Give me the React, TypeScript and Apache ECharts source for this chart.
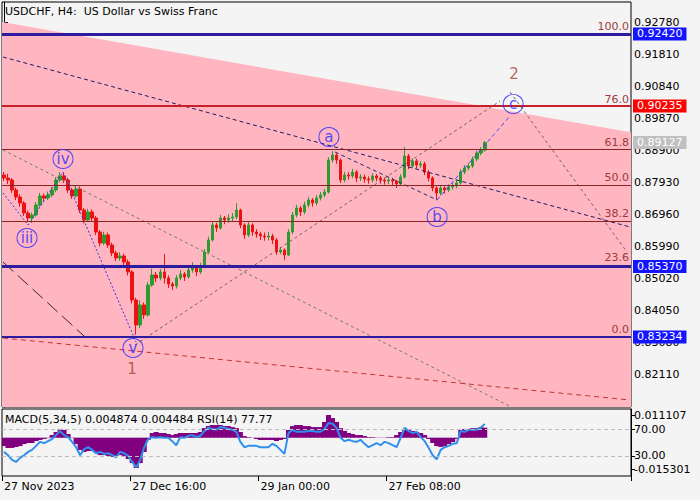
import React, { useEffect, useRef } from 'react';
import * as echarts from 'echarts';

const FONT = 'DejaVu Sans';

const titleText = 'USDCHF, H4:  US Dollar vs Swiss Franc';
const indicatorText = 'MACD(5,34,5) 0.004874 0.004484 RSI(14) 77.77';

const TOTAL_BARS = 157;
const timeLabels = ['27 Nov 2023', '27 Dec 16:00', '29 Jan 00:00', '27 Feb 08:00'];
const timeLabelBars = [0, 32, 64, 96];

const priceTicks = [0.9278, 0.9181, 0.9084, 0.8987, 0.889, 0.8793, 0.8696, 0.8599, 0.8502, 0.8405, 0.8308, 0.8211];
const priceMin = 0.811097;
const priceMax = 0.933863;
const macdTicks = [-0.015301, 0.011107];
const rsiTicks = [30, 70];

// [open, close, low, high]
const candles: number[][] = [
  [0.88142, 0.88051, 0.8796, 0.88233], [0.88051, 0.87991, 0.8787, 0.8818], [0.87991, 0.87688, 0.876, 0.8805],
  [0.87688, 0.87475, 0.8738, 0.8776], [0.87475, 0.87294, 0.8718, 0.8756], [0.87294, 0.8699, 0.869, 0.8735],
  [0.8699, 0.86839, 0.8671, 0.8706], [0.86839, 0.8693, 0.8669, 0.87], [0.8693, 0.87233, 0.8688, 0.8732],
  [0.87233, 0.87506, 0.8718, 0.876], [0.87506, 0.87445, 0.8732, 0.8758], [0.87445, 0.87536, 0.8738, 0.8764],
  [0.87536, 0.87688, 0.8747, 0.8778], [0.87688, 0.87991, 0.8762, 0.8808], [0.87991, 0.88112, 0.8793, 0.8823],
  [0.88112, 0.87991, 0.879, 0.882], [0.87991, 0.87688, 0.876, 0.8806], [0.87688, 0.87506, 0.8742, 0.8775],
  [0.87506, 0.87718, 0.8745, 0.8784], [0.87718, 0.87081, 0.8699, 0.8779], [0.87081, 0.86778, 0.8668, 0.8714],
  [0.86778, 0.87021, 0.8672, 0.8712], [0.87021, 0.86839, 0.8675, 0.871], [0.86839, 0.86414, 0.8632, 0.869],
  [0.86414, 0.86081, 0.8598, 0.8647], [0.86081, 0.86324, 0.8602, 0.8642], [0.86324, 0.86021, 0.8593, 0.864],
  [0.86021, 0.85778, 0.8568, 0.8609], [0.85778, 0.85627, 0.8553, 0.8585], [0.85627, 0.85687, 0.8554, 0.858],
  [0.85687, 0.85505, 0.8542, 0.8576], [0.85505, 0.85202, 0.851, 0.8558], [0.85202, 0.84353, 0.8425, 0.8526],
  [0.84353, 0.83596, 0.833, 0.8442], [0.83596, 0.84202, 0.835, 0.8435], [0.84202, 0.83899, 0.8378, 0.8428],
  [0.83899, 0.84808, 0.8385, 0.849], [0.84808, 0.85111, 0.8475, 0.853], [0.85111, 0.8502, 0.849, 0.852],
  [0.8502, 0.85202, 0.8495, 0.8529], [0.85202, 0.8502, 0.8485, 0.8575], [0.8502, 0.84838, 0.8472, 0.851],
  [0.84838, 0.84777, 0.8466, 0.849], [0.84777, 0.8502, 0.847, 0.8511], [0.8502, 0.85141, 0.8495, 0.8526],
  [0.85141, 0.8505, 0.8493, 0.852], [0.8505, 0.85263, 0.85, 0.8536], [0.85263, 0.85324, 0.8518, 0.855],
  [0.85324, 0.85202, 0.8508, 0.854], [0.85202, 0.85384, 0.8514, 0.8548], [0.85384, 0.85808, 0.8533, 0.859],
  [0.85808, 0.86172, 0.8575, 0.8627], [0.86172, 0.86627, 0.8612, 0.8672], [0.86627, 0.86536, 0.8642, 0.867],
  [0.86536, 0.86839, 0.8648, 0.8693], [0.86839, 0.86778, 0.8665, 0.869], [0.86778, 0.86839, 0.867, 0.8695],
  [0.86839, 0.86869, 0.8674, 0.8699], [0.86869, 0.87081, 0.868, 0.8729], [0.87081, 0.86627, 0.8653, 0.8712],
  [0.86627, 0.86324, 0.8621, 0.8668], [0.86324, 0.86627, 0.8626, 0.8672], [0.86627, 0.86414, 0.863, 0.8668],
  [0.86414, 0.86354, 0.8624, 0.865], [0.86354, 0.86293, 0.8617, 0.8642], [0.86293, 0.86263, 0.8615, 0.864],
  [0.86263, 0.86293, 0.8616, 0.8642], [0.86293, 0.86172, 0.8605, 0.8636], [0.86172, 0.85808, 0.8572, 0.8623],
  [0.85808, 0.85869, 0.8574, 0.8596], [0.85869, 0.85718, 0.8556, 0.8592], [0.85718, 0.86414, 0.8568, 0.865],
  [0.86414, 0.8693, 0.8635, 0.8702], [0.8693, 0.87142, 0.8686, 0.8724], [0.87142, 0.87021, 0.869, 0.872],
  [0.87021, 0.87233, 0.8695, 0.8733], [0.87233, 0.87385, 0.8716, 0.8748], [0.87385, 0.87294, 0.8718, 0.8744],
  [0.87294, 0.87445, 0.8722, 0.8754], [0.87445, 0.87536, 0.8737, 0.8763], [0.87536, 0.87627, 0.8747, 0.8772],
  [0.87627, 0.88597, 0.8758, 0.8868], [0.88597, 0.88749, 0.8852, 0.8887], [0.88749, 0.88597, 0.8848, 0.888],
  [0.88597, 0.87991, 0.879, 0.8864], [0.87991, 0.88142, 0.8792, 0.8824], [0.88142, 0.88112, 0.88, 0.8823],
  [0.88112, 0.88233, 0.8805, 0.8833], [0.88233, 0.88051, 0.8793, 0.8829], [0.88051, 0.88082, 0.8796, 0.8817],
  [0.88082, 0.88021, 0.8791, 0.8815], [0.88021, 0.87991, 0.8788, 0.881], [0.87991, 0.88112, 0.8792, 0.882],
  [0.88112, 0.88051, 0.8795, 0.8817], [0.88051, 0.87991, 0.8788, 0.8811], [0.87991, 0.8796, 0.8785, 0.8806],
  [0.8796, 0.87991, 0.8787, 0.8808], [0.87991, 0.8796, 0.8784, 0.8806], [0.8796, 0.87869, 0.8775, 0.8799],
  [0.87869, 0.88082, 0.8782, 0.8817], [0.88082, 0.88718, 0.8803, 0.8899], [0.88718, 0.88415, 0.8832, 0.8878],
  [0.88415, 0.88567, 0.8836, 0.8865], [0.88567, 0.88445, 0.8834, 0.8863], [0.88445, 0.88476, 0.8836, 0.8856],
  [0.88476, 0.88233, 0.8814, 0.8854], [0.88233, 0.88051, 0.8795, 0.8829], [0.88051, 0.87748, 0.8765, 0.881],
  [0.87748, 0.87597, 0.8739, 0.878], [0.87597, 0.87748, 0.8752, 0.8783], [0.87748, 0.87688, 0.8758, 0.878],
  [0.87688, 0.87778, 0.8762, 0.8786], [0.87778, 0.87809, 0.877, 0.879], [0.87809, 0.879, 0.8774, 0.8799],
  [0.879, 0.88233, 0.8785, 0.8832], [0.88233, 0.88355, 0.8817, 0.8844], [0.88355, 0.88415, 0.8828, 0.885],
  [0.88415, 0.88627, 0.8836, 0.887], [0.88627, 0.88809, 0.8856, 0.8888], [0.88809, 0.889, 0.8874, 0.8899],
  [0.889, 0.89127, 0.8885, 0.8917],
];

const macd = [
  -0.0041, -0.005, -0.005, -0.0045, -0.0041, -0.0031, -0.0026, -0.0026, -0.0016, -0.0011,
  -0.0006, -0.0002, 0.0013, 0.0028, 0.0043, 0.0038, 0.0018, -0.0002, -0.0031, -0.006,
  -0.007, -0.0065, -0.0065, -0.0075, -0.0085, -0.0085, -0.0089, -0.0094, -0.0089, -0.0085,
  -0.0089, -0.0104, -0.0124, -0.0148, -0.0124, -0.007, -0.0011, 0.0023, 0.0028, 0.0023,
  0.0023, 0.0018, 0.0013, 0.0018, 0.0023, 0.0023, 0.0023, 0.0023, 0.0023, 0.0028,
  0.0047, 0.0057, 0.0062, 0.0062, 0.0062, 0.0057, 0.0057, 0.0052, 0.0047, 0.0028,
  0.0008, 0.0003, -0.0001, -0.0006, -0.0011, -0.0011, -0.0011, -0.0011, -0.0016, -0.0011,
  -0.0006, 0.0038, 0.0057, 0.0062, 0.0062, 0.0057, 0.0057, 0.0052, 0.0052, 0.0052,
  0.0077, 0.0111, 0.0096, 0.0077, 0.0047, 0.0033, 0.0023, 0.0018, 0.0013, 0.0013,
  0.0008, 0.0003, 0.0003, -0.0001, -0.0001, -0.0001, 0.0003, 0.0003, 0.0013, 0.0028,
  0.0038, 0.0038, 0.0033, 0.0028, 0.0023, 0.0013, -0.0006, -0.0026, -0.0041, -0.0045,
  -0.0041, -0.0031, -0.0021, -0.0006, 0.0038, 0.0043, 0.0043, 0.0047, 0.0047, 0.0052,
  0.0049,
];

const rsi = [
  36, 31, 24, 21, 27, 31, 36, 39, 45, 51,
  49, 52, 55, 61, 67, 61, 58, 51, 43, 31,
  40, 43, 39, 34, 36, 33, 34, 31, 28, 36,
  34, 30, 21, 13, 24, 43, 55, 58, 57, 58,
  57, 57, 52, 46, 58, 57, 60, 61, 58, 60,
  67, 72, 70, 69, 73, 72, 70, 69, 66, 51,
  43, 45, 45, 45, 43, 43, 43, 48, 45, 39,
  33, 64, 69, 66, 66, 66, 67, 67, 66, 66,
  70, 79, 78, 72, 57, 52, 54, 52, 51, 54,
  48, 43, 46, 49, 46, 51, 49, 46, 43, 57,
  72, 67, 64, 66, 58, 52, 42, 31, 25, 39,
  43, 45, 48, 49, 67, 66, 69, 69, 69, 72,
  77.77,
];

const fibLow = 0.83234;
const fibHigh = 0.9242;
const fibLevels = [0, 23.6, 38.2, 50, 61.8, 76, 100];

const blueLevels = [0.9242, 0.8537, 0.83234];
const redLevels = [0.90235];
const lastPrice = 0.89127;

// zone boundary: [bar, price]
const zoneEdge = [[-0.5, 0.9278], [156.5, 0.8944]];

// trend lines in [bar, price]
const navyLine = [[-0.25, 0.91719], [156.26, 0.86566]];
const waveOneToTwo = [[32.7, 0.82989], [123.8, 0.90385]];
const twoDown = [[126.3, 0.90658], [155.5, 0.85808]];
const greenLine = [[-0.25, 0.889], [126.6, 0.8111]];
const redLine = [[-0.25, 0.83201], [156.26, 0.81322]];
const darkLine = [[-0.25, 0.85505], [19.97, 0.83262]];
const subWave = [[-0.25, 0.87597], [6.0, 0.86627], [14.73, 0.88233], [32.95, 0.8308]];
const bToC = [[108.1, 0.87385], [126.3, 0.89931]];
const aToB = [[82.6, 0.8884], [108.1, 0.87385]];

const waveLabels: [number, number, string][] = [
  [5.74, 0.86233, 'iii'],
  [14.73, 0.88627, 'iv'],
  [32.2, 0.82898, 'v'],
  [81.1, 0.89294, 'a'],
  [108.1, 0.86869, 'b'],
  [127.1, 0.90295, 'c'],
];
const degreeLabels: [number, number, string][] = [
  [31.95, 0.82262, '1'],
  [127.3, 0.91204, '2'],
];

const barSlots = Array.from({ length: TOTAL_BARS }, (_, i) => String(i));

function trend(data: number[][], color: string, dash: number[], width = 1, z = 4) {
  return {
    type: 'line',
    xAxisIndex: 1,
    yAxisIndex: 0,
    data,
    symbol: 'none',
    silent: true,
    z,
    lineStyle: { color, width, type: dash },
  };
}

export default function App() {
  const ref = useRef<HTMLDivElement>(null);

  useEffect(() => {
    document.body.style.margin = '0';
    if (!ref.current) return;
    const chart = echarts.init(ref.current, undefined, { renderer: 'svg' });

    const fibPrices = fibLevels.map((l) => fibLow + (l / 100) * (fibHigh - fibLow));

    const option: any = {
      animation: false,
      backgroundColor: '#f4f4f4',
      textStyle: { fontFamily: FONT },
      title: [
        {
          text: titleText,
          left: 5,
          top: 6,
          padding: 0,
          textStyle: { fontSize: 11, fontWeight: 'normal', color: '#000', fontFamily: FONT },
        },
        {
          text: indicatorText,
          left: 5,
          top: 414,
          padding: 0,
          textStyle: { fontSize: 11, fontWeight: 'normal', color: '#000', fontFamily: FONT },
        },
      ],
      grid: [
        { left: 2, width: 629, top: 2, height: 405, show: true, borderColor: '#000', borderWidth: 1, backgroundColor: '#f4f4f4' },
        { left: 2, width: 629, top: 415, height: 54, show: false },
        { left: 2, width: 629, top: 409, height: 67, show: true, borderColor: '#000', borderWidth: 1, backgroundColor: '#f4f4f4' },
      ],
      xAxis: [
        { type: 'category', gridIndex: 0, data: barSlots, show: false },
        { type: 'value', gridIndex: 0, min: -0.5, max: TOTAL_BARS - 0.5, show: false },
        { type: 'category', gridIndex: 1, data: barSlots, show: false },
        {
          type: 'category',
          gridIndex: 2,
          data: barSlots,
          axisLine: { show: false },
          axisTick: {
            show: true,
            length: 5,
            interval: (i: number) => timeLabelBars.includes(i),
            lineStyle: { color: '#000' },
          },
          axisLabel: {
            interval: (i: number) => timeLabelBars.includes(i),
            formatter: (_v: string, i: number) => {
              const k = timeLabelBars.indexOf(i);
              return k >= 0 ? timeLabels[k] : '';
            },
            align: 'left',
            margin: 5,
            color: '#000',
            fontSize: 11,
            fontFamily: FONT,
          },
          splitLine: { show: false },
        },
      ],
      yAxis: [
        {
          type: 'value',
          gridIndex: 0,
          position: 'right',
          min: priceMin,
          max: priceMax,
          axisLine: { show: true, lineStyle: { color: '#000' } },
          axisTick: { show: true, length: 4, customValues: priceTicks, lineStyle: { color: '#000' } },
          axisLabel: {
            customValues: priceTicks,
            formatter: (v: number) => v.toFixed(5),
            color: '#000',
            fontSize: 11,
            fontFamily: FONT,
            margin: 3,
            hideOverlap: false,
          },
          splitLine: { show: false },
        },
        {
          type: 'value',
          gridIndex: 1,
          position: 'right',
          min: macdTicks[0],
          max: macdTicks[1],
          axisLine: { show: false },
          axisTick: { show: true, length: 4, customValues: macdTicks, lineStyle: { color: '#000' } },
          axisLabel: {
            customValues: macdTicks,
            formatter: (v: number) => v.toFixed(6),
            color: '#000',
            fontSize: 11,
            fontFamily: FONT,
            margin: 3,
          },
          splitLine: { show: false },
        },
        {
          type: 'value',
          gridIndex: 2,
          position: 'right',
          min: 0,
          max: 100,
          axisLine: { show: true, lineStyle: { color: '#000' } },
          axisTick: { show: true, length: 4, customValues: rsiTicks, lineStyle: { color: '#000' } },
          axisLabel: {
            customValues: rsiTicks,
            formatter: (v: number) => v.toFixed(2),
            color: '#000',
            fontSize: 11,
            fontFamily: FONT,
            margin: 3,
          },
          splitLine: { show: false },
        },
      ],
      series: [
        {
          type: 'line',
          xAxisIndex: 1,
          yAxisIndex: 0,
          data: zoneEdge,
          symbol: 'none',
          silent: true,
          z: 1,
          lineStyle: { width: 0, opacity: 0 },
          areaStyle: { color: '#ffb6c1', opacity: 1, origin: 'start' },
        },
        {
          type: 'line',
          xAxisIndex: 1,
          yAxisIndex: 0,
          data: [[-0.5, fibLow], [TOTAL_BARS - 0.5, fibLow]],
          symbol: 'none',
          silent: true,
          z: 2,
          lineStyle: { opacity: 0 },
          markLine: {
            silent: true,
            precision: 6,
            symbol: ['none', 'none'],
            lineStyle: { color: '#8b2323', width: 1, type: 'solid' },
            label: {
              show: true,
              position: 'insideEndTop',
              distance: 2,
              color: '#9b3b3b',
              fontSize: 11,
              fontFamily: FONT,
              formatter: '{b}',
            },
            data: fibPrices.map((p, i) => ({ yAxis: p, name: fibLevels[i].toFixed(1) })),
          },
        },
        {
          type: 'candlestick',
          xAxisIndex: 0,
          yAxisIndex: 0,
          data: candles,
          barWidth: 3,
          z: 3,
          itemStyle: {
            color: '#2f9a2f',
            color0: '#ee1111',
            borderColor: '#2f9a2f',
            borderColor0: '#ee1111',
            borderWidth: 1,
          },
        },
        trend(navyLine, '#1c1c6a', [4, 3]),
        trend(waveOneToTwo, '#6e6262', [3, 3]),
        trend(twoDown, '#6e6262', [3, 3]),
        trend(greenLine, '#6d8060', [3, 3]),
        trend(redLine, '#c83232', [5, 4]),
        trend(darkLine, '#3a2a2a', [14, 6]),
        trend(subWave, '#3434e0', [2, 2]),
        trend(bToC, '#4545ff', [4, 3]),
        trend(aToB, '#2a2a70', [4, 3]),
        {
          type: 'line',
          xAxisIndex: 1,
          yAxisIndex: 0,
          data: [[-0.5, lastPrice], [TOTAL_BARS - 0.5, lastPrice]],
          symbol: 'none',
          silent: true,
          z: 6,
          lineStyle: { opacity: 0 },
          markLine: {
            silent: true,
            precision: 6,
            symbol: ['none', 'none'],
            label: {
              show: true,
              position: 'end',
              distance: 2,
              color: '#fff',
              fontSize: 11,
              fontFamily: FONT,
              lineHeight: 13,
              padding: [0, 4, 0, 4],
              formatter: (p: any) => Number(p.value).toFixed(5),
            },
            data: [
              ...blueLevels.map((v, i) => ({
                yAxis: v,
                lineStyle: { color: '#2d1ba0', width: i === 2 ? 2 : 3, type: 'solid' },
                label: { backgroundColor: '#1414ff' },
              })),
              ...redLevels.map((v) => ({
                yAxis: v,
                lineStyle: { color: '#c8202a', width: 2, type: 'solid' },
                label: { backgroundColor: '#ff0000' },
              })),
              {
                yAxis: lastPrice,
                lineStyle: { color: 'rgba(0,0,0,0)', width: 1, opacity: 1 },
                label: { backgroundColor: '#c0c0c0', color: '#ffffff', opacity: 1 },
              },
            ],
          },
        },
        {
          type: 'scatter',
          xAxisIndex: 1,
          yAxisIndex: 0,
          data: waveLabels,
          symbol: 'circle',
          symbolSize: [20, 19],
          silent: true,
          z: 7,
          itemStyle: { color: 'rgba(0,0,0,0)', borderColor: '#2a2aff', borderWidth: 1 },
          label: {
            show: true,
            position: 'inside',
            formatter: (p: any) => p.data[2],
            color: '#2a2aff',
            fontSize: 15,
            fontFamily: FONT,
          },
        },
        {
          type: 'scatter',
          xAxisIndex: 1,
          yAxisIndex: 0,
          data: degreeLabels,
          symbol: 'circle',
          symbolSize: 2,
          silent: true,
          z: 7,
          itemStyle: { color: 'rgba(0,0,0,0)' },
          label: {
            show: true,
            position: 'inside',
            formatter: (p: any) => p.data[2],
            color: '#a0403a',
            fontSize: 15,
            fontFamily: FONT,
          },
        },
        {
          type: 'bar',
          xAxisIndex: 2,
          yAxisIndex: 1,
          data: macd,
          barWidth: 5,
          itemStyle: { color: '#800080' },
          silent: true,
          z: 2,
        },
        {
          type: 'line',
          xAxisIndex: 3,
          yAxisIndex: 2,
          data: rsi,
          symbol: 'none',
          silent: true,
          z: 3,
          lineStyle: { color: '#2f8fef', width: 2 },
          markLine: {
            silent: true,
            symbol: ['none', 'none'],
            label: { show: false },
            lineStyle: { color: '#bdbdbd', width: 1, type: [4, 3] },
            data: rsiTicks.map((v) => ({ yAxis: v })),
          },
        },
      ],
    };

    chart.setOption(option);
    return () => chart.dispose();
  }, []);

  return <div ref={ref} style={{ width: 700, height: 500 }} />;
}
